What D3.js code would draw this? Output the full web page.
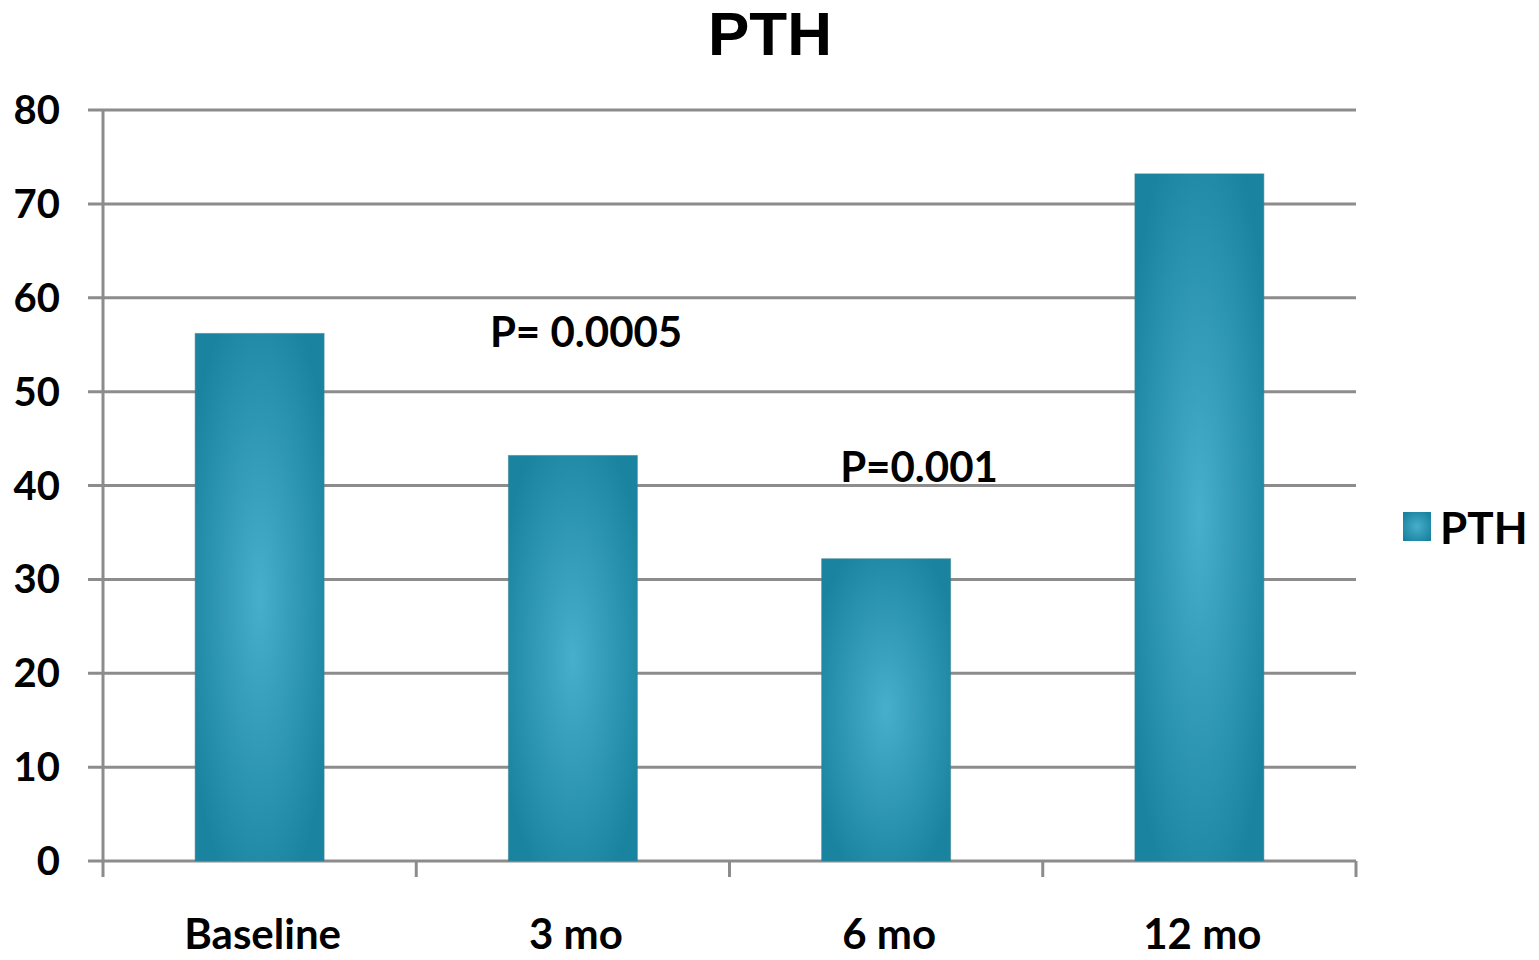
<!DOCTYPE html>
<html><head><meta charset="utf-8">
<script src="https://cdn.jsdelivr.net/npm/d3@7/dist/d3.min.js"></script>
<style>body{margin:0;background:#fff;} svg{display:block;}</style>
</head><body>
<script>
const categories = ["Baseline", "3 mo", "6 mo", "12 mo"];
const values = [56.2, 43.2, 32.2, 73.2];
const yTicks = [0, 10, 20, 30, 40, 50, 60, 70, 80];
const seriesName = "PTH";
const annotations = [
  {text: "P= 0.0005", cat: "3 mo", value: 54.8, dx: -83},
  {text: "P=0.001", cat: "6 mo", value: 40.4, dx: -46}
];

const W = 1539, H = 960;
const svg = d3.select("body").append("svg").attr("width", W).attr("height", H);
const font = "Lato, 'Open Sans', sans-serif";

const x = d3.scaleBand().domain(categories).range([103, 1356]).paddingInner(0).paddingOuter(0);
const y = d3.scaleLinear().domain([0, 80]).range([861, 110]);

const defs = svg.append("defs");
const g = defs.append("radialGradient").attr("id", "barGrad")
  .attr("cx", 0.5).attr("cy", 0.5).attr("r", 0.6);
g.append("stop").attr("offset", "0%").attr("stop-color", "#47aecb");
g.append("stop").attr("offset", "100%").attr("stop-color", "#1a84a0");
const lg = defs.append("radialGradient").attr("id", "legGrad")
  .attr("cx", 0.5).attr("cy", 0.5).attr("r", 0.6);
lg.append("stop").attr("offset", "0%").attr("stop-color", "#47aecb");
lg.append("stop").attr("offset", "100%").attr("stop-color", "#1a84a0");

// gridlines
svg.append("g").selectAll("line").data(yTicks).join("line")
  .attr("x1", 88).attr("x2", 1356)
  .attr("y1", d => y(d)).attr("y2", d => y(d))
  .attr("stroke", "#8c8c8c").attr("stroke-width", 3);

// y axis line
svg.append("line").attr("x1", 103).attr("x2", 103).attr("y1", y(80)).attr("y2", 877)
  .attr("stroke", "#8c8c8c").attr("stroke-width", 3);

// x ticks
const xt = categories.map(c => x(c)).concat([x.range()[1]]);
svg.append("g").selectAll("line").data(xt.slice(1)).join("line")
  .attr("x1", d => d).attr("x2", d => d).attr("y1", 861).attr("y2", 877)
  .attr("stroke", "#8c8c8c").attr("stroke-width", 3);

// bars
const bw = 129;
svg.append("g").selectAll("rect").data(categories).join("rect")
  .attr("x", (c) => x(c) + x.bandwidth() / 2 - bw / 2)
  .attr("width", bw)
  .attr("y", (c, i) => y(values[i]))
  .attr("height", (c, i) => y(0) - y(values[i]))
  .attr("fill", "url(#barGrad)")
  .attr("stroke", "#3a7f91").attr("stroke-width", 1).attr("stroke-opacity", 0.5);

// y labels
svg.append("g").selectAll("text").data(yTicks).join("text")
  .attr("x", 60).attr("y", d => y(d) + 14)
  .attr("text-anchor", "end")
  .attr("font-family", font).attr("font-weight", "bold").attr("font-size", 40)
  .attr("fill", "#000").text(d => d);

// x labels
svg.append("g").selectAll("text").data(categories).join("text")
  .attr("x", c => x(c) + x.bandwidth() / 2 + 3).attr("y", 949)
  .attr("text-anchor", "middle")
  .attr("font-family", font).attr("font-weight", "bold").attr("font-size", 42)
  .attr("fill", "#000").text(c => c);

// title
svg.append("text").attr("x", 770).attr("y", 55).attr("text-anchor", "middle")
  .attr("font-family", "'Liberation Sans', Arial, sans-serif").attr("font-weight", "900")
  .attr("font-size", 62).attr("fill", "#000").text(seriesName);

// annotations
svg.append("g").selectAll("text").data(annotations).join("text")
  .attr("x", d => x(d.cat) + x.bandwidth() / 2 + d.dx)
  .attr("y", d => y(d.value))
  .attr("font-family", font).attr("font-weight", "bold").attr("font-size", 42)
  .attr("fill", "#000").text(d => d.text);

// legend
svg.append("rect").attr("x", 1403).attr("y", 512).attr("width", 28).attr("height", 29)
  .attr("fill", "url(#legGrad)");
svg.append("text").attr("x", 1440).attr("y", 544)
  .attr("font-family", font).attr("font-weight", "bold").attr("font-size", 44)
  .attr("fill", "#000").text(seriesName);
</script>
</body></html>
